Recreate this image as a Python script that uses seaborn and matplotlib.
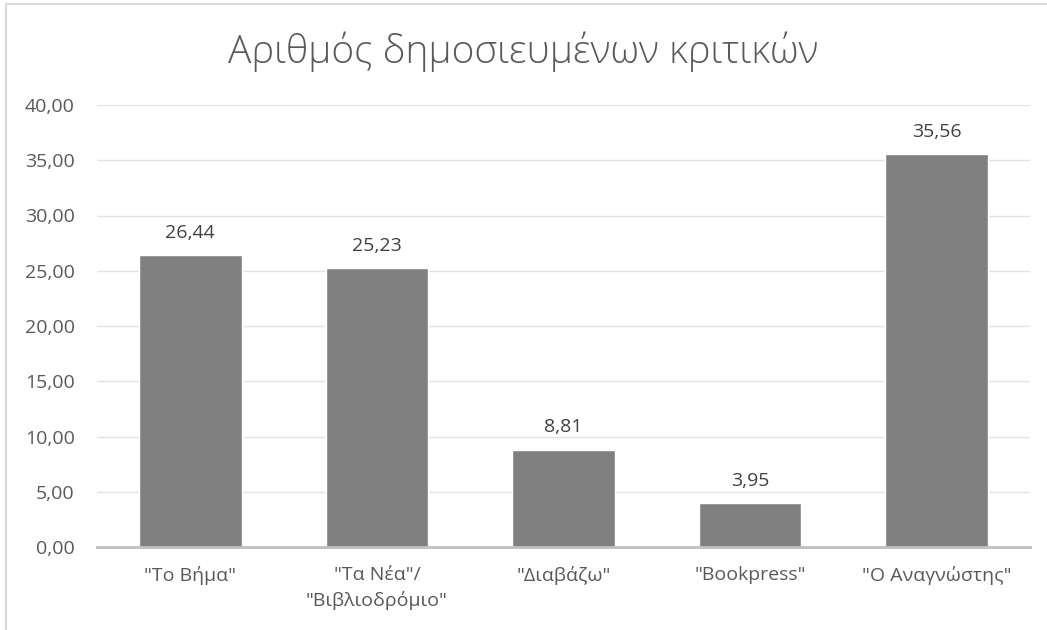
import pandas as pd
import matplotlib.pyplot as plt
import seaborn as sns
from matplotlib.lines import Line2D

# chart data
categories = ['"Το Βήμα"', '"Τα Νέα"/\n"Βιβλιοδρόμιο"', '"Διαβάζω"', '"Bookpress"', '"Ο Αναγνώστης"']
values = [26.44, 25.23, 8.81, 3.95, 35.56]
yticks = [0, 5, 10, 15, 20, 25, 30, 35, 40]

df = pd.DataFrame({'source': categories, 'value': values})

sns.set_style('white')
plt.rcParams['font.family'] = ['Open Sans', 'DejaVu Sans']

text_col = '#595959'

fig = plt.figure(figsize=(10.47, 6.3), dpi=100)
ax = fig.add_axes([97 / 1047, 1 - 547 / 630, (1030 - 97) / 1047, (547 - 105) / 630])

sns.barplot(data=df, x='source', y='value', color='#808080', saturation=1,
            width=0.55, ax=ax, zorder=3)

ax.set_ylim(0, 40)
ax.set_yticks(yticks)
ax.set_yticklabels([f'{t:.2f}'.replace('.', ',') for t in yticks])
ax.yaxis.grid(True, color='#e3e3e3', linewidth=1, zorder=0)
ax.set_axisbelow(True)
for side in ['top', 'right', 'left']:
    ax.spines[side].set_visible(False)
ax.spines['bottom'].set_color('#bfbfbf')
ax.spines['bottom'].set_linewidth(2)
ax.spines['bottom'].set_zorder(4)
ax.tick_params(axis='both', length=0, labelsize=14, colors=text_col)
ax.tick_params(axis='x', pad=14)
ax.tick_params(axis='y', pad=16)
for lbl in ax.get_xticklabels():
    lbl.set_linespacing(1.45)
ax.set_xlabel('')
ax.set_ylabel('')

# data labels
for i, v in enumerate(values):
    ax.text(i, v + 1.2, f'{v:.2f}'.replace('.', ','), ha='center', va='bottom',
            fontsize=14, color='#404040')

fig.text(0.5, 1 - 52 / 630, 'Αριθμός δημοσιευμένων κριτικών', ha='center', va='center',
         fontsize=28, color=text_col, fontweight='light')

# chart area border (left and top visible)
fig.add_artist(Line2D([6 / 1047, 6 / 1047], [0, 1 - 4 / 630], transform=fig.transFigure,
                      color='#d9d9d9', linewidth=1.5))
fig.add_artist(Line2D([6 / 1047, 1], [1 - 4 / 630, 1 - 4 / 630], transform=fig.transFigure,
                      color='#d9d9d9', linewidth=1.5))

fig.savefig('out.png', dpi=100)
